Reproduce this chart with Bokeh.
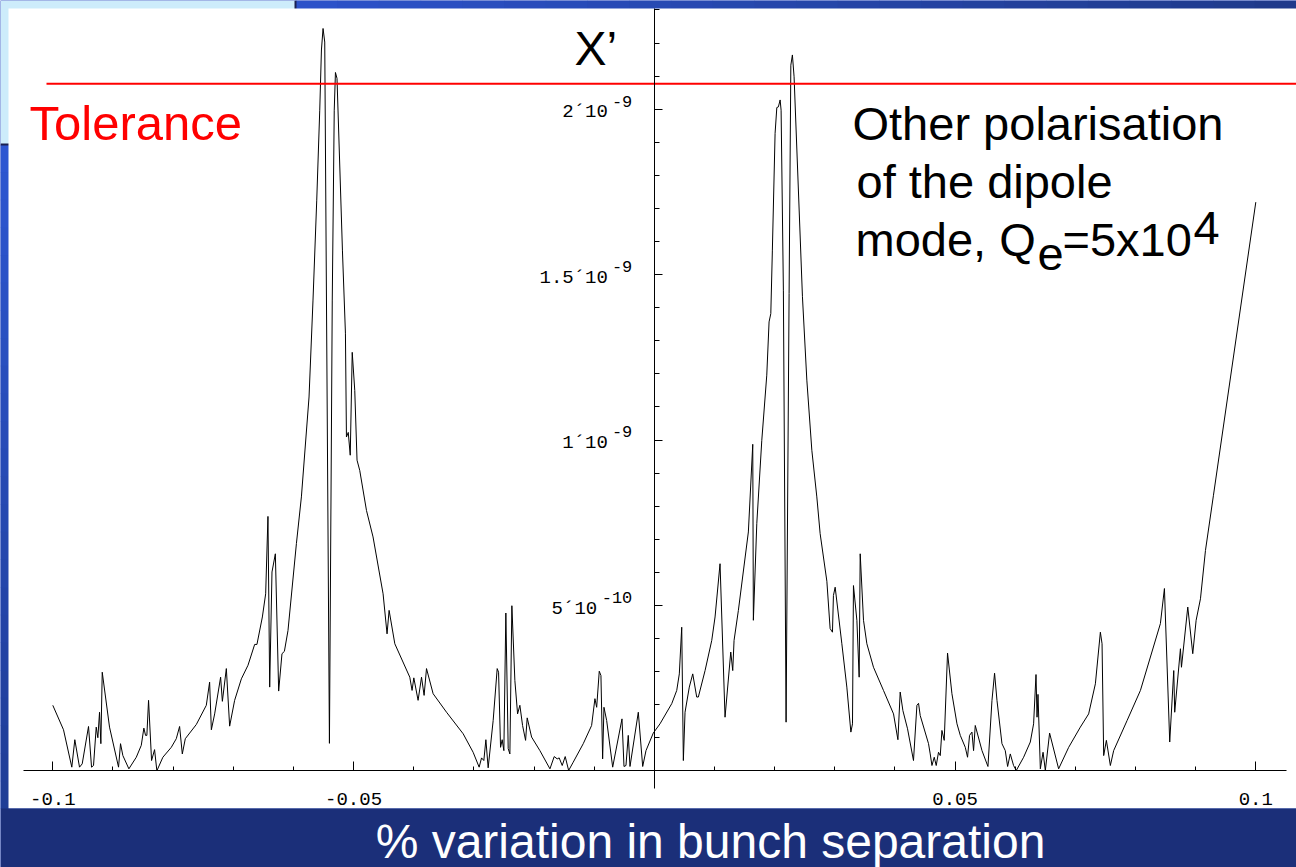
from bokeh.plotting import figure
from bokeh.models import Range1d, LinearAxis, FixedTicker, ColumnDataSource
from bokeh.core.properties import value
from bokeh.embed import file_html
from bokeh.resources import INLINE

# ---------------- data ----------------
bunch_separation_variation = [
    -0.10000, -0.09822, -0.09684, -0.09634, -0.09556, -0.09511, -0.09406, -0.09356, -0.09323, -0.09278,
    -0.09251, -0.09223, -0.09201, -0.09178, -0.09057, -0.08907, -0.08874, -0.08835, -0.08735, -0.08612,
    -0.08529, -0.08486, -0.08458, -0.08436, -0.08408, -0.08358, -0.08308, -0.08270, -0.08170, -0.08030,
    -0.07947, -0.07892, -0.07847, -0.07797, -0.07614, -0.07448, -0.07393, -0.07364, -0.07309, -0.07210,
    -0.07181, -0.07115, -0.07060, -0.06977, -0.06865, -0.06755, -0.06644, -0.06606, -0.06516, -0.06461,
    -0.06423, -0.06394, -0.06356, -0.06300, -0.06245, -0.06190, -0.06150, -0.06090, -0.05950, -0.05867,
    -0.05740, -0.05674, -0.05612, -0.05562, -0.05534, -0.05507, -0.05479, -0.05401, -0.05354, -0.05321,
    -0.05301, -0.05275, -0.05185, -0.05135, -0.05118, -0.05088, -0.05055, -0.05022, -0.04980, -0.04942,
    -0.04897, -0.04785, -0.04676, -0.04509, -0.04443, -0.04409, -0.04314, -0.04065, -0.04027, -0.03998,
    -0.03927, -0.03870, -0.03827, -0.03787, -0.03677, -0.03454, -0.03178, -0.03012, -0.02912, -0.02872,
    -0.02834, -0.02800, -0.02762, -0.02679, -0.02612, -0.02589, -0.02556, -0.02529, -0.02501, -0.02468,
    -0.02429, -0.02401, -0.02368, -0.02318, -0.02273, -0.02235, -0.02190, -0.02140, -0.02113, -0.02040,
    -0.01902, -0.01735, -0.01664, -0.01614, -0.01581, -0.01531, -0.01481, -0.01424, -0.01348, -0.01181,
    -0.01042, -0.00987, -0.00958, -0.00915, -0.00887, -0.00859, -0.00837, -0.00792, -0.00692, -0.00537,
    -0.00504, -0.00471, -0.00433, -0.00404, -0.00266, -0.00193, -0.00138, -0.00017, 0.00095, 0.00290,
    0.00373, 0.00416, 0.00456, 0.00483, 0.00511, 0.00582, 0.00639, 0.00705, 0.00732, 0.00844,
    0.00955, 0.01010, 0.01093, 0.01176, 0.01271, 0.01304, 0.01326, 0.01398, 0.01564, 0.01637,
    0.01647, 0.01704, 0.01787, 0.01870, 0.01908, 0.01937, 0.01963, 0.02008, 0.02037, 0.02063,
    0.02092, 0.02108, 0.02146, 0.02191, 0.02241, 0.02270, 0.02296, 0.02324, 0.02463, 0.02536,
    0.02619, 0.02702, 0.02757, 0.02869, 0.02923, 0.02962, 0.02978, 0.03007, 0.03118, 0.03201,
    0.03268, 0.03295, 0.03311, 0.03368, 0.03406, 0.03423, 0.03478, 0.03534, 0.03644, 0.03810,
    0.03977, 0.04050, 0.04088, 0.04133, 0.04210, 0.04309, 0.04366, 0.04393, 0.04421, 0.04559,
    0.04587, 0.04616, 0.04654, 0.04687, 0.04725, 0.04754, 0.04782, 0.04820, 0.04875, 0.04948,
    0.05032, 0.05087, 0.05170, 0.05208, 0.05241, 0.05281, 0.05308, 0.05336, 0.05448, 0.05547,
    0.05614, 0.05657, 0.05697, 0.05780, 0.05835, 0.05874, 0.05918, 0.05973, 0.06018, 0.06140,
    0.06251, 0.06306, 0.06346, 0.06363, 0.06379, 0.06418, 0.06463, 0.06501, 0.06572, 0.06722,
    0.06889, 0.07083, 0.07221, 0.07333, 0.07416, 0.07444, 0.07471, 0.07516, 0.07582, 0.07637,
    0.07860, 0.08082, 0.08414, 0.08481, 0.08569, 0.08636, 0.08652, 0.08747, 0.08764, 0.08869,
    0.08952, 0.09008, 0.09080, 0.09163, 0.09296, 0.10000,
]

# X' amplitude, in units of 1e-10
x_prime_1e10 = [
    1.98, 1.24, 0.11, 0.94, 0.11, 0.21, 1.34, 0.11, 0.16, 1.32,
    1.00, 1.77, 0.82, 2.98, 1.32, 0.11, 0.82, 0.46, 0.06, 0.41,
    0.77, 1.29, 1.07, 1.07, 2.13, 0.31, 0.64, 0.00, 0.41, 0.71,
    0.97, 1.34, 0.51, 0.97, 1.40, 1.98, 2.68, 1.24, 1.72, 2.83,
    2.10, 3.09, 1.35, 2.13, 2.78, 3.19, 3.82, 3.82, 4.65, 5.35,
    7.69, 2.53, 6.01, 6.56, 2.41, 3.54, 3.61, 4.24, 6.87, 8.28,
    11.30, 14.23, 17.25, 19.97, 21.79, 22.44, 22.03, 0.83, 14.23, 19.97,
    21.11, 20.93, 15.74, 13.23, 10.09, 10.23, 9.54, 12.65, 11.50, 9.39,
    9.08, 7.87, 7.07, 5.35, 4.14, 4.85, 3.84, 2.83, 2.43, 2.81,
    2.13, 2.83, 2.28, 3.09, 2.33, 1.77, 1.12, 0.56, 0.11, 0.39,
    0.31, 0.94, 0.09, 1.52, 3.09, 2.98, 0.71, 0.94, 0.61, 4.77,
    0.67, 0.51, 4.99, 2.73, 1.72, 1.98, 1.37, 0.92, 1.60, 1.02,
    0.61, 0.06, 0.43, 0.36, 0.39, 0.16, 0.43, 0.01, 0.26, 0.82,
    1.37, 2.18, 1.92, 3.01, 2.88, 0.36, 1.92, 1.52, 0.11, 1.57,
    0.13, 0.16, 1.07, 0.13, 1.77, 0.13, 0.61, 1.14, 1.42, 2.03,
    2.43, 2.93, 4.34, 0.31, 1.77, 2.53, 2.93, 2.23, 2.23, 3.03,
    3.94, 4.65, 6.26, 1.62, 3.59, 3.03, 3.94, 4.85, 7.22, 9.87,
    4.55, 7.47, 9.99, 11.96, 13.57, 13.82, 15.74, 19.27, 20.05, 20.07,
    20.28, 19.97, 14.53, 1.47, 14.43, 21.33, 21.64, 20.98, 14.33, 11.81,
    9.69, 8.28, 7.17, 5.73, 4.30, 4.19, 5.30, 5.55, 3.84, 2.53,
    1.17, 1.42, 5.60, 4.55, 2.83, 6.56, 4.55, 3.84, 3.13, 2.43,
    1.72, 0.94, 2.38, 1.82, 1.27, 0.31, 1.98, 2.04, 1.67, 0.82,
    0.51, 0.16, 0.41, 0.16, 0.56, 0.46, 1.22, 0.92, 3.56, 2.33,
    1.42, 1.07, 0.71, 0.41, 1.07, 1.17, 0.61, 1.37, 0.61, 0.13,
    2.13, 2.95, 2.13, 0.82, 0.61, 0.13, 0.51, 0.16, 0.01, 0.41,
    0.87, 1.42, 2.91, 1.62, 2.31, 0.06, 0.56, 0.01, 1.14, 0.06,
    0.71, 1.32, 1.72, 2.63, 4.19, 3.84, 0.46, 0.92, 0.16, 0.61,
    1.52, 2.43, 4.45, 5.51, 0.87, 3.03, 1.77, 3.69, 3.13, 4.95,
    3.54, 4.55, 5.20, 6.66, 8.33, 17.19,
]
x_prime = [v * 1e-10 for v in x_prime_1e10]

tolerance = 2.077e-9

x_major_ticks = [-0.1, -0.05, 0.05, 0.1]
x_tick_labels = ["-0.1", "-0.05", "0.05", "0.1"]
x_minor_ticks = [-0.09, -0.08, -0.07, -0.06, -0.04, -0.03, -0.02, -0.01,
                 0.01, 0.02, 0.03, 0.04, 0.06, 0.07, 0.08, 0.09]

y_major_ticks = [5e-10, 1e-9, 1.5e-9, 2e-9]
y_tick_mantissa = ["5\u00b410", "1\u00b410", "1.5\u00b410", "2\u00b410"]
y_tick_exponent = ["-10", "-9", "-9", "-9"]
y_minor_ticks = [k * 1e-10 for k in range(1, 24) if k % 5 != 0]

# ---------------- layout helpers (slide pixel -> data position) ----------------
W, H = 1296, 867
X0_PX, PX_PER_X = 653.8, 6015.0
Y0_PX, PX_PER_Y = 770.3, 330.8e9
BASELINE_FIX = 0.36  # measured shift of the rendered baseline, in em


def dx(px):
    return (px - X0_PX) / PX_PER_X


def dy(py):
    return (Y0_PX - py) / PX_PER_Y


def mix(c1, c2, t):
    a = [int(c1[i:i + 2], 16) for i in (1, 3, 5)]
    b = [int(c2[i:i + 2], 16) for i in (1, 3, 5)]
    return "#%02x%02x%02x" % tuple(round(a[k] + (b[k] - a[k]) * t) for k in range(3))


p = figure(width=W, height=H, x_range=Range1d(dx(0), dx(W)), y_range=Range1d(dy(H), dy(0)),
           x_axis_type=None, y_axis_type=None, toolbar_location=None, output_backend="svg",
           min_border=0, title=None, outline_line_color=None,
           background_fill_color="#2a4cbf", border_fill_color="#2a4cbf")

# slide background: gradients on the thin left/top margins
n = 24
for i in range(n):
    t0, t1 = i / n, (i + 1) / n
    p.quad(left=dx(0), right=dx(8.5), top=dy(144 + 664 * t0), bottom=dy(144 + 664 * t1 + 0.5),
           fill_color=mix("#2d57d2", "#1f3c95", (t0 + t1) / 2), line_color=None)
    p.quad(left=dx(295 + 1001 * t0), right=dx(295 + 1001 * t1 + 0.5), top=dy(0), bottom=dy(8.5),
           fill_color=mix("#2c52ca", "#1f3a8a", (t0 + t1) / 2), line_color=None)
# light-blue box behind top-left corner
p.quad(left=dx(0), right=dx(295), top=dy(0), bottom=dy(144), fill_color="#cdecfb", line_color=None)
p.line(x=[dx(295), dx(295), dx(0)], y=[dy(0), dy(144), dy(144)], line_color="#1a2050", line_width=2)
# white plotting area
p.quad(left=dx(8), right=dx(W), top=dy(8), bottom=dy(808), fill_color="white", line_color=None)
# bottom title band
p.quad(left=dx(0), right=dx(W), top=dy(808), bottom=dy(H), fill_color="#1b2f79", line_color=None)

# ---------------- the curve and tolerance ----------------
p.line(x=bunch_separation_variation, y=x_prime, line_color="black", line_width=1)
p.line(x=[dx(46), dx(W)], y=[tolerance, tolerance], line_color="#ff0000", line_width=2)

# ---------------- axes through the origin ----------------
xaxis = LinearAxis(ticker=FixedTicker(ticks=x_major_ticks, minor_ticks=x_minor_ticks),
                   fixed_location=0, bounds=(dx(23), dx(1285.7)),
                   major_tick_in=9, major_tick_out=0, minor_tick_in=4, minor_tick_out=0,
                   axis_line_color="black", major_tick_line_color="black", minor_tick_line_color="black",
                   major_label_overrides={v: s for v, s in zip(x_major_ticks, x_tick_labels)},
                   major_label_text_font="Liberation Mono", major_label_text_font_size="19px",
                   major_label_text_color="black", major_label_standoff=22)
p.add_layout(xaxis, "below")

yaxis = LinearAxis(ticker=FixedTicker(ticks=y_major_ticks, minor_ticks=y_minor_ticks),
                   fixed_location=0, bounds=(dy(788), dy(8)),
                   major_tick_in=8, major_tick_out=0, minor_tick_in=5, minor_tick_out=0,
                   axis_line_color="black", major_tick_line_color="black", minor_tick_line_color="black",
                   major_label_overrides={v: "" for v in y_major_ticks})
p.add_layout(yaxis, "left")

# y tick labels with raised exponents
ysrc = ColumnDataSource(dict(
    y=y_major_ticks, mant=y_tick_mantissa, exp=y_tick_exponent,
    mant_off=[-(25 + 10.7 * len(e)) for e in y_tick_exponent],
))
p.text(x=0, y="y", text="mant", x_offset="mant_off", y_offset=10 - BASELINE_FIX * 19, source=ysrc,
       text_align="right", text_baseline="alphabetic", text_font=value("Liberation Mono"),
       text_font_size="19px", text_color="black")
p.text(x=0, y="y", text="exp", x_offset=-22, y_offset=-2 - BASELINE_FIX * 17, source=ysrc,
       text_align="right", text_baseline="alphabetic", text_font=value("Liberation Mono"),
       text_font_size="17px", text_color="black")

# ---------------- annotations (text glyphs) ----------------
SANS = value("Liberation Sans")


def add_text(text, px, py, color="black", size=47, align="left"):
    p.text(x=[dx(px)], y=[dy(py - BASELINE_FIX * size)], text=[text], text_color=color,
           text_font=SANS, text_font_size="%dpx" % size, text_align=align, text_baseline="alphabetic")


add_text("Tolerance", 29, 140, color="#ff0000", size=49)
add_text("X\u2019", 574, 65, size=48)
add_text("Other polarisation", 852, 140)
add_text("of the dipole", 856, 198)
add_text("mode, Q", 855, 256)
add_text("e", 1037, 270)
add_text("=5x10", 1062, 256)
add_text("4", 1193, 244)
add_text("% variation in bunch separation", 710, 858, color="white", size=48, align="center")

open("out.html", "w").write(file_html(p, INLINE))
